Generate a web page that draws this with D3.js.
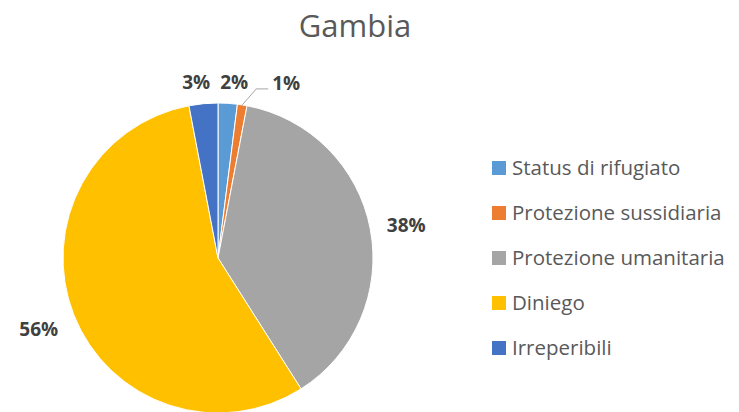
<!DOCTYPE html>
<html lang="it">
  <head>
    <meta charset="utf-8">
    <title>Gambia</title>
    <script src="https://d3js.org/d3.v7.js"></script>
    <style>
      body { margin: 0; background: white; }
      text { font-family: "Open Sans", sans-serif; }
    </style>
  </head>
  <body>
  <script>

// data

  var categories = ["Status di rifugiato", "Protezione sussidiaria", "Protezione umanitaria", "Diniego", "Irreperibili"];
  var values = [2, 1, 38, 56, 3];
  var colors = ["#5B9BD5", "#ED7D31", "#A5A5A5", "#FFC000", "#4472C4"];

  var w = 739;
  var h = 412;
  var cx = 218, cy = 258, r = 155;

  var svg = d3.select("body")
    .append("svg")
      .attr("width", w)
      .attr("height", h);

  svg.append("text")
      .attr("x", 355)
      .attr("y", 37)
      .attr("text-anchor", "middle")
      .attr("font-size", 31)
      .attr("fill", "#595959")
      .text("Gambia");

  var pie = d3.pie().sort(null).value(d => d.value);
  var arc = d3.arc().innerRadius(0).outerRadius(r);

  var data = categories.map((c, i) => ({name: c, value: values[i], color: colors[i]}));
  var arcs = pie(data);

  var g = svg.append("g")
      .attr("transform", `translate(${cx}, ${cy})`);

  g.selectAll("path")
      .data(arcs)
    .enter().append("path")
      .attr("d", arc)
      .attr("fill", d => d.data.color)
      .attr("stroke", "white")
      .attr("stroke-width", 1);

// labels outside the pie

  var total = d3.sum(values);
  arcs.forEach(function(d, i) {
    var a = (d.startAngle + d.endAngle) / 2;
    var txt = Math.round(d.data.value / total * 100) + "%";
    var tw = txt.length * 12, th = 20;
    var rr = 167 + 0.5 * Math.abs(tw * Math.sin(a)) + 0.5 * Math.abs(th * Math.cos(a));
    var x = rr * Math.sin(a) + Math.sign(Math.sin(a)) * 5, y = -rr * Math.cos(a) + 2;
    if (d.data.value < 2) {
      // small slice: pushed aside with a leader line
      var px = r * Math.sin(a), py = -r * Math.cos(a);
      var lx = px + 14, ly = py - 16;
      g.append("polyline")
          .attr("points", `${px},${py} ${lx},${ly} ${lx + 12},${ly}`)
          .attr("fill", "none")
          .attr("stroke", "#A6A6A6")
          .attr("stroke-width", 1);
      x = lx + 30; y = ly - 6;
    }
    g.append("text")
        .attr("x", x)
        .attr("y", y)
        .attr("dy", "0.35em")
        .attr("text-anchor", "middle")
        .attr("font-size", 19)
        .attr("font-weight", "bold")
        .attr("fill", "#404040")
        .text(txt);
  });

// legend

  var legend = svg.append("g")
      .attr("transform", "translate(492, 168)");

  var item = legend.selectAll("g")
      .data(categories)
    .enter().append("g")
      .attr("transform", (d, i) => `translate(0, ${i * 45})`);

  item.append("rect")
      .attr("x", 0)
      .attr("y", -7)
      .attr("width", 14)
      .attr("height", 14)
      .attr("fill", (d, i) => colors[i]);

  item.append("text")
      .attr("x", 20)
      .attr("y", 0)
      .attr("dy", "0.35em")
      .attr("font-size", 20.5)
      .attr("fill", "#595959")
      .text(d => d);

  </script>
  </body>
</html>
